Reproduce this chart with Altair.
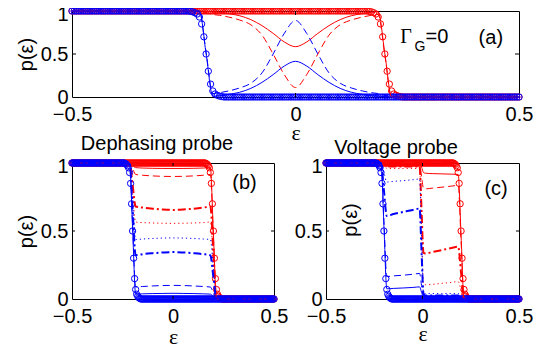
import altair as alt
import pandas as pd

BLUE = "#0000ff"
RED = "#ff0000"
SANS = "Liberation Sans"
SERIF = "Liberation Serif"

# ---- circle samples (energy grid, step 0.005) ----
eps_circ = [round(-0.5 + 0.005 * i, 3) for i in range(201)]
step_vals = [0.995, 0.99, 0.98, 0.965, 0.93, 0.85, 0.7, 0.5, 0.3, 0.15, 0.07, 0.035, 0.02, 0.01, 0.005]
blue_circ = [1.0] * 53 + step_vals + [0.0] * 133
red_circ = [1.0] * 133 + step_vals + [0.0] * 53

# ---- panel (a): Gamma_G = 0 ----
eps_a = [-0.5, -0.215, -0.2, -0.185, -0.17, -0.15, -0.125, -0.1, -0.075, -0.05, -0.025, 0.0,
         0.025, 0.05, 0.075, 0.1, 0.125, 0.15, 0.17, 0.185, 0.2, 0.215, 0.5]
a_red_solid = [1, 1, 0.995, 0.99, 0.985, 0.97, 0.945, 0.9, 0.83, 0.74, 0.64, 0.585,
               0.64, 0.74, 0.83, 0.9, 0.945, 0.97, 0.985, 0.99, 0.5, 0, 0]
a_blue_solid = [1, 1, 0.505, 0.01, 0.015, 0.03, 0.055, 0.1, 0.17, 0.26, 0.36, 0.415,
                0.36, 0.26, 0.17, 0.1, 0.055, 0.03, 0.015, 0.01, 0.005, 0, 0]
a_red_dashed = [1, 1, 0.98, 0.96, 0.95, 0.93, 0.895, 0.84, 0.72, 0.5, 0.26, 0.11,
                0.26, 0.5, 0.72, 0.84, 0.895, 0.93, 0.95, 0.96, 0.48, 0, 0]
a_blue_dashed = [1, 1, 0.52, 0.04, 0.05, 0.07, 0.105, 0.16, 0.28, 0.5, 0.74, 0.89,
                 0.74, 0.5, 0.28, 0.16, 0.105, 0.07, 0.05, 0.04, 0.02, 0, 0]

# ---- panel (b): dephasing probe ----
eps_b = [-0.5, -0.215, -0.2, -0.185, -0.15, -0.1, -0.05, 0.0, 0.05, 0.1, 0.15, 0.185, 0.2, 0.215, 0.5]
b_red_solid = [1, 1, 0.98, 0.966, 0.963, 0.961, 0.96, 0.96, 0.96, 0.961, 0.963, 0.966, 0.48, 0, 0]
b_blue_solid = [1, 1, 0.52, 0.036, 0.038, 0.04, 0.041, 0.042, 0.041, 0.04, 0.038, 0.036, 0.018, 0, 0]
b_red_dashed = [1, 1, 0.96, 0.916, 0.91, 0.905, 0.902, 0.901, 0.902, 0.905, 0.91, 0.916, 0.46, 0, 0]
b_blue_dashed = [1, 1, 0.54, 0.088, 0.092, 0.096, 0.099, 0.1, 0.099, 0.096, 0.092, 0.088, 0.044, 0, 0]
b_red_dashdot = [1, 1, 0.84, 0.68, 0.672, 0.664, 0.658, 0.655, 0.658, 0.664, 0.672, 0.68, 0.34, 0, 0]
b_blue_dashdot = [1, 1, 0.66, 0.322, 0.33, 0.337, 0.342, 0.345, 0.342, 0.337, 0.33, 0.322, 0.161, 0, 0]
b_red_dotted = [1, 1, 0.78, 0.566, 0.562, 0.559, 0.557, 0.556, 0.557, 0.559, 0.562, 0.566, 0.283, 0, 0]
b_blue_dotted = [1, 1, 0.72, 0.437, 0.441, 0.445, 0.448, 0.449, 0.448, 0.445, 0.441, 0.437, 0.22, 0, 0]

# ---- panel (c): voltage probe ----
eps_c = [-0.5, -0.215, -0.2, -0.185, -0.15, -0.1, -0.05, -0.015, -0.005, 0.005, 0.015,
         0.05, 0.1, 0.15, 0.185, 0.2, 0.215, 0.5]
c_blue_solid = [1, 1, 0.54, 0.075, 0.078, 0.081, 0.085, 0.089, 0.05, 0.01, 0.005, 0.005, 0.005, 0.005, 0.005, 0.003, 0, 0]
c_blue_dashed = [1, 1, 0.58, 0.165, 0.17, 0.175, 0.182, 0.188, 0.1, 0.02, 0.01, 0.01, 0.01, 0.01, 0.01, 0.005, 0, 0]
c_blue_dashdot = [1, 1, 0.8, 0.61, 0.625, 0.64, 0.655, 0.665, 0.35, 0.04, 0.025, 0.025, 0.025, 0.025, 0.025, 0.012, 0, 0]
c_blue_dotted = [1, 1, 0.93, 0.86, 0.865, 0.87, 0.877, 0.882, 0.45, 0.05, 0.04, 0.04, 0.04, 0.04, 0.04, 0.02, 0, 0]
c_red_solid = [1, 1, 1, 0.995, 0.995, 0.995, 0.995, 0.995, 0.97, 0.93, 0.925, 0.922, 0.92, 0.918, 0.916, 0.46, 0, 0]
c_red_dashed = [1, 1, 1, 0.99, 0.99, 0.99, 0.99, 0.99, 0.9, 0.815, 0.81, 0.815, 0.822, 0.83, 0.835, 0.42, 0, 0]
c_red_dashdot = [1, 1, 1, 0.975, 0.975, 0.975, 0.975, 0.975, 0.65, 0.34, 0.335, 0.345, 0.36, 0.375, 0.385, 0.19, 0, 0]
c_red_dotted = [1, 1, 1, 0.96, 0.96, 0.96, 0.96, 0.96, 0.55, 0.11, 0.105, 0.108, 0.115, 0.122, 0.128, 0.065, 0, 0]

x_ticks = [-0.5, 0, 0.5]
y_ticks = [0, 0.5, 1]

DASH = [7, 4]
DOT = [1.2, 3]
DASHDOT = [8, 3, 2, 3]

XLAB = "datum.value == 0 ? '0' : format(datum.value, '.1f')"
YLAB = "datum.value == 0.5 ? '0.5' : format(datum.value, 'd')"
Y_ONE_OFFSET = {"condition": {"test": "datum.value == 1", "value": 3}, "value": 0}


def make_axes(xpad, xtitlepad, ytitle):
    xa = alt.Axis(values=x_ticks, labelExpr=XLAB, title="ε", titleFont=SERIF, titleFontSize=22,
                  titleFontWeight="normal", titlePadding=xtitlepad, labelFont=SANS, labelFontSize=20,
                  labelPadding=xpad, ticks=False, domain=False, grid=False, labelFlush=False,
                  labelOverlap=False, labelColor="black", titleColor="black")
    if ytitle:
        ya = alt.Axis(values=y_ticks, labelExpr=YLAB, title="p(ε)", titleFont=SANS, titleFontSize=20,
                      titleFontWeight="normal", titlePadding=4, labelFont=SANS, labelFontSize=20,
                      labelPadding=4, labelOffset=Y_ONE_OFFSET, ticks=False, domain=False, grid=False,
                      labelFlush=False, labelOverlap=False, labelColor="black", titleColor="black")
    else:
        ya = alt.Axis(values=y_ticks, labelExpr=YLAB, title=None, labelFont=SANS, labelFontSize=20,
                      labelPadding=4, labelOffset=Y_ONE_OFFSET, ticks=False, domain=False, grid=False,
                      labelFlush=False, labelOverlap=False, labelColor="black")
    return xa, ya


def panel(W, H, eps_line, lines, texts, xa, ya, tl):
    X = alt.X("eps:Q", scale=alt.Scale(domain=[-0.5, 0.5], nice=False, zero=False), axis=xa)
    Y = alt.Y("p:Q", scale=alt.Scale(domain=[0, 1], nice=False, zero=False), axis=ya)
    layers = []
    for vals, col in [(red_circ, RED), (blue_circ, BLUE)]:
        df = pd.DataFrame({"eps": eps_circ, "p": vals})
        layers.append(alt.Chart(df).mark_point(shape="circle", filled=False, size=40, strokeWidth=1,
                                                color=col, opacity=1).encode(x=X, y=Y))
    for vals, col, dash, w in lines:
        df = pd.DataFrame({"eps": eps_line, "p": vals})
        if dash:
            m = alt.Chart(df).mark_line(color=col, strokeWidth=w, strokeDash=dash, interpolate="monotone")
        else:
            m = alt.Chart(df).mark_line(color=col, strokeWidth=w, interpolate="monotone")
        layers.append(m.encode(x=X, y=Y))
    # inward ticks
    dfx = pd.DataFrame({"eps": [0.0]})
    layers.append(alt.Chart(dfx).mark_rule(color="black", strokeWidth=1).encode(
        x=X, y=alt.value(H), y2=alt.value(H - tl)))
    layers.append(alt.Chart(dfx).mark_rule(color="black", strokeWidth=1).encode(
        x=X, y=alt.value(0), y2=alt.value(tl)))
    dfy = pd.DataFrame({"p": [0.5]})
    layers.append(alt.Chart(dfy).mark_rule(color="black", strokeWidth=1).encode(
        y=Y, x=alt.value(0), x2=alt.value(tl)))
    layers.append(alt.Chart(dfy).mark_rule(color="black", strokeWidth=1).encode(
        y=Y, x=alt.value(W), x2=alt.value(W - tl)))
    for t in texts:
        df = pd.DataFrame({"eps": [t["eps"]], "p": [t["p"]], "t": [t["text"]]})
        kw = dict(font=t.get("font", SANS), fontSize=t.get("size", 20), align="center",
                  baseline=t.get("baseline", "middle"), color="black")
        if "angle" in t:
            kw["angle"] = t["angle"]
        layers.append(alt.Chart(df).mark_text(**kw).encode(x=X, y=Y, text="t:N"))
    return alt.layer(*layers).properties(width=W, height=H)


xa_a, ya_a = make_axes(7, -2, True)
pa = panel(447, 86, eps_a,
           [(a_red_solid, RED, None, 1), (a_red_dashed, RED, DASH, 1),
            (a_blue_solid, BLUE, None, 1), (a_blue_dashed, BLUE, DASH, 1)],
           [dict(eps=0.247, p=0.70, text="Γ", font=SERIF, size=20),
            dict(eps=0.2785, p=0.58, text="G", size=14),
            dict(eps=0.3166, p=0.70, text="=0", size=20),
            dict(eps=0.437, p=0.69, text="(a)", size=20)],
           xa_a, ya_a, 4)

xa_b, ya_b = make_axes(7, 0, True)
pb = panel(202, 136, eps_b,
           [(b_red_solid, RED, None, 1), (b_red_dashed, RED, DASH, 1),
            (b_red_dashdot, RED, DASHDOT, 2), (b_red_dotted, RED, DOT, 1),
            (b_blue_solid, BLUE, None, 1), (b_blue_dashed, BLUE, DASH, 1),
            (b_blue_dashdot, BLUE, DASHDOT, 2), (b_blue_dotted, BLUE, DOT, 1)],
           [dict(eps=0.354, p=0.853, text="(b)", size=20),
            dict(eps=-0.079, p=1.096, text="Dephasing probe", size=20, baseline="alphabetic")],
           xa_b, ya_b, 3)

xa_c, ya_c = make_axes(7, -3, False)
pc = panel(193, 136, eps_c,
           [(c_red_solid, RED, None, 1), (c_red_dashed, RED, DASH, 1),
            (c_red_dashdot, RED, DASHDOT, 2), (c_red_dotted, RED, DOT, 1),
            (c_blue_solid, BLUE, None, 1), (c_blue_dashed, BLUE, DASH, 1),
            (c_blue_dashdot, BLUE, DASHDOT, 2), (c_blue_dotted, BLUE, DOT, 1)],
           [dict(eps=0.381, p=0.809, text="(c)", size=20),
            dict(eps=-0.37, p=0.581, text="p(ε)", size=20, angle=270),
            dict(eps=-0.137, p=1.066, text="Voltage probe", size=20, baseline="alphabetic")],
           xa_c, ya_c, 3)

row = alt.hconcat(pb, pc, spacing=52, bounds="flush")
chart = alt.vconcat(pa, row, spacing=66, bounds="flush").properties(
    padding={"left": 7, "top": -5, "right": 0, "bottom": 0},
    background="white",
).configure_view(stroke="black", strokeWidth=1)

chart.save("out.html", embed_options={"renderer": "svg", "actions": False})
